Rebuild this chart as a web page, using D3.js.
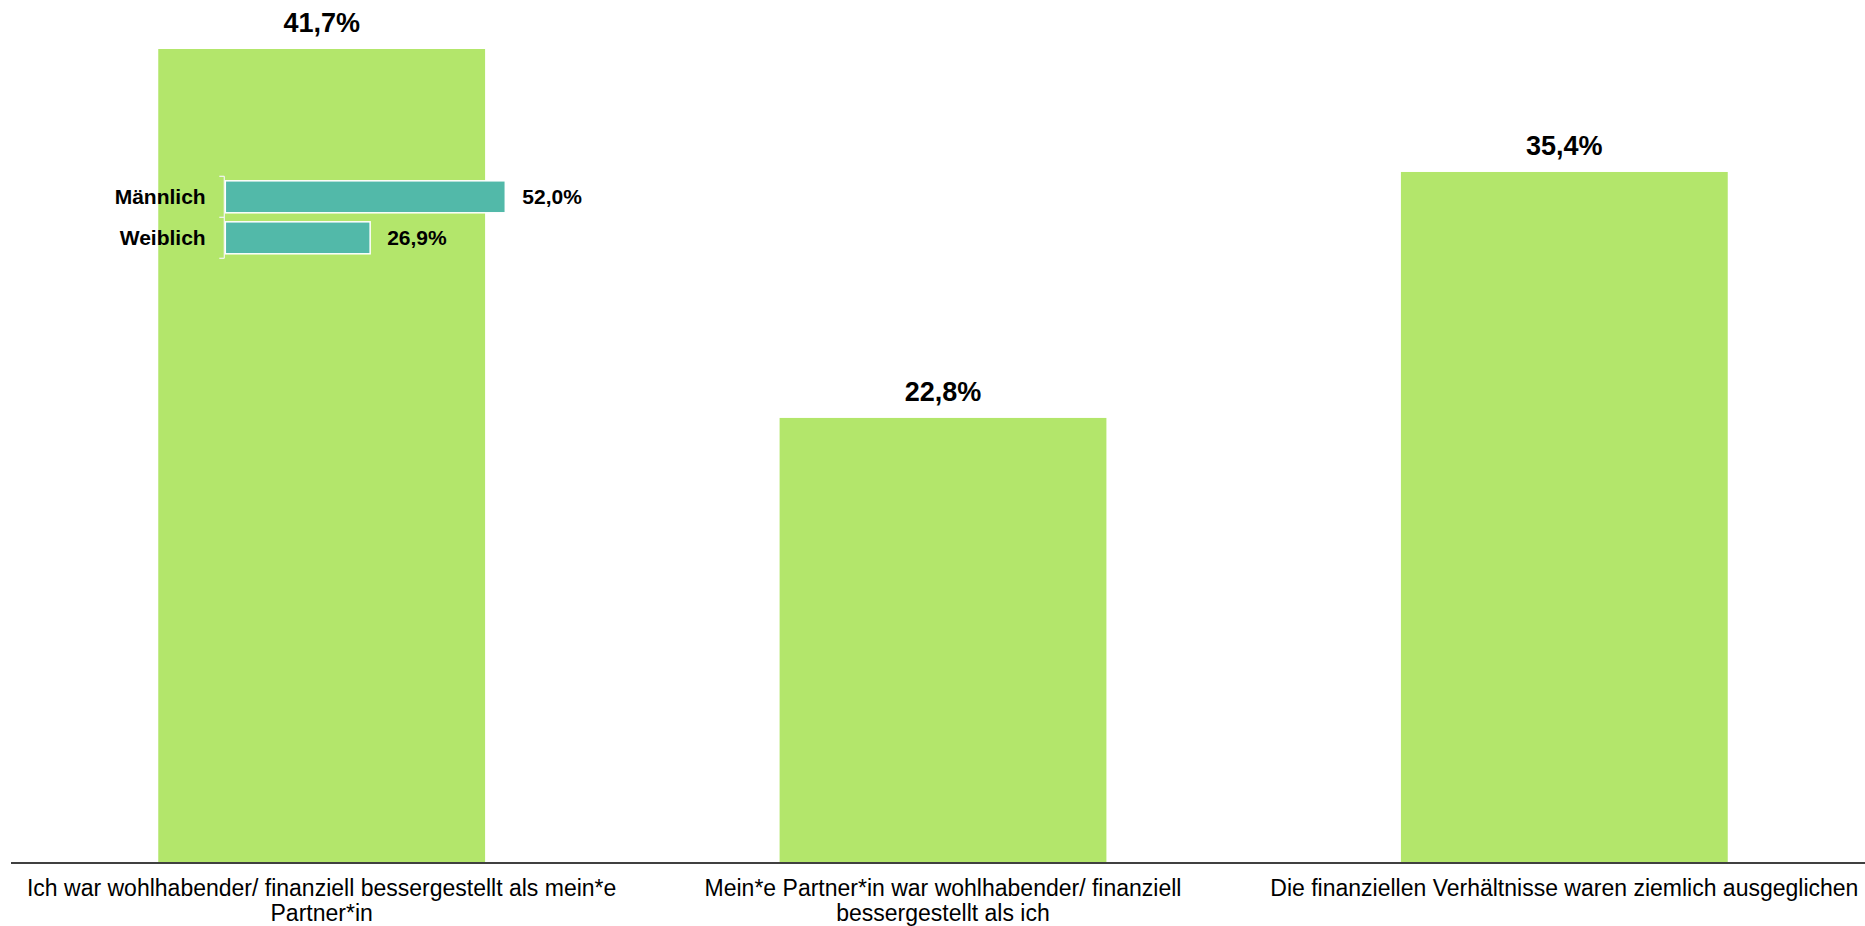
<!DOCTYPE html>
<html>
<head>
<meta charset="utf-8">
<script src="https://cdn.jsdelivr.net/npm/d3@7"></script>
<style>
  html, body { margin: 0; padding: 0; background: #ffffff; }
  svg { display: block; }
  text { font-family: "Liberation Sans", Arial, Helvetica, sans-serif; fill: #000; }
</style>
</head>
<body>
<svg id="chart" width="1865" height="926"></svg>
<script>
// Main bars: financial situation compared with the partner
const categories = [
  "Ich war wohlhabender/ finanziell bessergestellt als mein*e Partner*in",
  "Mein*e Partner*in war wohlhabender/ finanziell bessergestellt als ich",
  "Die finanziellen Verhältnisse waren ziemlich ausgeglichen"
];
const values = [41.7, 22.8, 35.4];

// Breakdown by gender for the first category
const genderLabels = ["Männlich", "Weiblich"];
const genderValues = [52.0, 26.9];

const GREEN = "#b3e66b";
const TEAL = "#52b9a9";

const fmt = v => d3.format(".1f")(v).replace(".", ",") + "%";

const svg = d3.select("#chart");
const W = 1865;

const baseline = 863;
const x = d3.scaleBand()
  .domain(categories)
  .range([11, 1875])
  .paddingInner(0.474)
  .paddingOuter(0.237);

const y = d3.scaleLinear()
  .domain([0, 41.7])
  .range([baseline, 49]);

// Bars
svg.append("g")
  .selectAll("rect")
  .data(values)
  .join("rect")
  .attr("x", (d, i) => x(categories[i]))
  .attr("y", d => y(d))
  .attr("width", x.bandwidth())
  .attr("height", d => baseline - y(d))
  .attr("fill", GREEN);

// Value labels above bars
svg.append("g")
  .selectAll("text")
  .data(values)
  .join("text")
  .attr("x", (d, i) => x(categories[i]) + x.bandwidth() / 2)
  .attr("y", d => y(d) - 17)
  .attr("text-anchor", "middle")
  .style("font-size", "27px")
  .style("font-weight", "bold")
  .text(d => fmt(d));

// Category axis
const xAxis = svg.append("g")
  .attr("transform", `translate(0,${baseline})`)
  .call(d3.axisBottom(x).tickSize(0).tickPadding(0));
xAxis.select(".domain").remove();
svg.append("line")
  .attr("x1", 11).attr("x2", W)
  .attr("y1", baseline).attr("y2", baseline)
  .attr("stroke", "#404040")
  .attr("stroke-width", 2);

// Wrap tick labels to the band step
const maxW = x.step() * 0.97;
xAxis.selectAll(".tick text")
  .attr("fill", "#000")
  .style("font-family", "'Liberation Sans', Arial, sans-serif")
  .style("font-size", "23px")
  .each(function (d) {
    const t = d3.select(this);
    const words = d.split(" ");
    t.text(null);
    let line = [];
    let lineNo = 0;
    let tspan = t.append("tspan").attr("x", 0).attr("y", 33);
    for (const w of words) {
      line.push(w);
      tspan.text(line.join(" "));
      if (tspan.node().getComputedTextLength() > maxW && line.length > 1) {
        line.pop();
        tspan.text(line.join(" "));
        line = [w];
        lineNo++;
        tspan = t.append("tspan").attr("x", 0).attr("y", 33 + lineNo * 25).text(w);
      }
    }
  })
  .attr("dy", null);

// Inset: breakdown by gender inside the first bar
const gy = d3.scaleBand()
  .domain(genderLabels)
  .range([176.3, 258.3])
  .paddingInner(0.22)
  .paddingOuter(0.11);
const gx = d3.scaleLinear()
  .domain([0, 52.0])
  .range([225.3, 505.3]);

const inset = svg.append("g");

inset.selectAll("rect")
  .data(genderValues)
  .join("rect")
  .attr("x", gx(0))
  .attr("y", (d, i) => gy(genderLabels[i]))
  .attr("width", d => gx(d) - gx(0))
  .attr("height", gy.bandwidth())
  .attr("fill", TEAL)
  .attr("stroke", "#ffffff")
  .attr("stroke-width", 1.5);

// Inset category axis with ticks at band edges
const axisX = 224.3;
const edges = [gy.range()[0], gy.range()[0] + gy.step(), gy.range()[1]];
inset.append("line")
  .attr("x1", axisX).attr("x2", axisX)
  .attr("y1", edges[0]).attr("y2", edges[2])
  .attr("stroke", "#f4f4f4").attr("stroke-width", 1.2);
inset.selectAll("line.edge")
  .data(edges)
  .join("line")
  .attr("class", "edge")
  .attr("x1", axisX - 5).attr("x2", axisX)
  .attr("y1", d => d).attr("y2", d => d)
  .attr("stroke", "#f4f4f4").attr("stroke-width", 1.2);

inset.selectAll("text.cat")
  .data(genderLabels)
  .join("text")
  .attr("class", "cat")
  .attr("x", axisX - 18.6)
  .attr("y", d => gy(d) + gy.bandwidth() / 2)
  .attr("dy", "0.35em")
  .attr("text-anchor", "end")
  .style("font-size", "21px")
  .style("font-weight", "bold")
  .text(d => d);

inset.selectAll("text.val")
  .data(genderValues)
  .join("text")
  .attr("class", "val")
  .attr("x", d => gx(d) + 17)
  .attr("y", (d, i) => gy(genderLabels[i]) + gy.bandwidth() / 2)
  .attr("dy", "0.35em")
  .style("font-size", "21px")
  .style("font-weight", "bold")
  .text(d => fmt(d));
</script>
</body>
</html>
